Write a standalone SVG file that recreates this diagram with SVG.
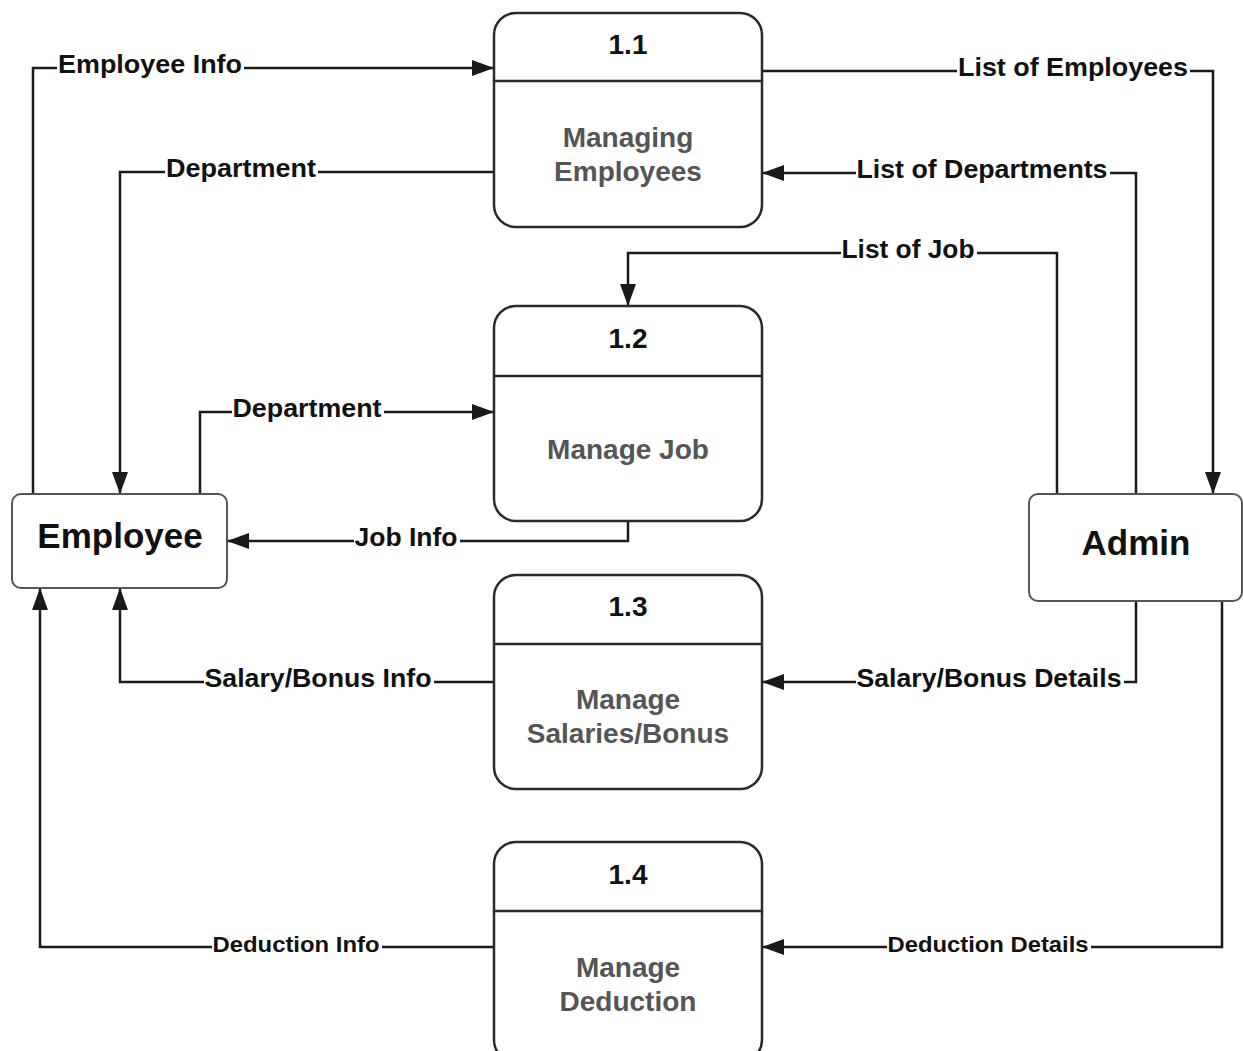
<svg xmlns="http://www.w3.org/2000/svg" width="1243" height="1051" viewBox="0 0 1243 1051">
<style>
.proc{fill:#fff;stroke:#2a2a2a;stroke-width:2.5}
.div{stroke:#2a2a2a;stroke-width:2.5}
.ent{fill:#fff;stroke:#555;stroke-width:2}
.num{font-family:"Liberation Sans",Arial,sans-serif;font-weight:bold;font-size:28px;fill:#111;text-anchor:middle}
.pt{font-family:"Liberation Sans",Arial,sans-serif;font-weight:bold;font-size:28px;fill:#555;text-anchor:middle}
.et{font-family:"Liberation Sans",Arial,sans-serif;font-weight:bold;font-size:35px;fill:#111;text-anchor:middle}
.flow{fill:none;stroke:#1a1a1a;stroke-width:2.5;marker-end:url(#arr)}
.lbl{font-family:"Liberation Sans",Arial,sans-serif;font-weight:bold;font-size:25px;fill:#111;text-anchor:middle}
.lbs{font-family:"Liberation Sans",Arial,sans-serif;font-weight:bold;font-size:22px;fill:#111;text-anchor:middle}
.bg{fill:#fff}
</style>
<defs>
<marker id="arr" markerUnits="userSpaceOnUse" markerWidth="24" markerHeight="18" refX="22" refY="8" orient="auto">
<path d="M0,0 L22,8 L0,16 z" fill="#1a1a1a"/>
</marker>
</defs>
<rect width="1243" height="1051" fill="#fff"/>
<g id="connectors">
<path class="flow" d="M33,494 V68 H494"/>
<rect class="bg" x="57" y="55" width="187" height="26"/>
<text class="lbl" x="150" y="73" textLength="184" lengthAdjust="spacingAndGlyphs">Employee Info</text>

<path class="flow" d="M494,172 H120 V494"/>
<rect class="bg" x="165" y="159" width="153" height="26"/>
<text class="lbl" x="241" y="177" textLength="150" lengthAdjust="spacingAndGlyphs">Department</text>

<path class="flow" d="M200,494 V412 H494"/>
<rect class="bg" x="232" y="399" width="152" height="26"/>
<text class="lbl" x="307" y="417" textLength="149" lengthAdjust="spacingAndGlyphs">Department</text>

<path class="flow" d="M628,521 V541 H227"/>
<rect class="bg" x="354" y="528" width="106" height="26"/>
<text class="lbl" x="406" y="546" textLength="103" lengthAdjust="spacingAndGlyphs">Job Info</text>

<path class="flow" d="M494,682 H120 V588"/>
<rect class="bg" x="204" y="669" width="230" height="26"/>
<text class="lbl" x="318" y="687" textLength="227" lengthAdjust="spacingAndGlyphs">Salary/Bonus Info</text>

<path class="flow" d="M494,947 H40 V588"/>
<rect class="bg" x="212" y="935" width="170" height="24"/>
<text class="lbs" x="296" y="952" textLength="167" lengthAdjust="spacingAndGlyphs">Deduction Info</text>

<path class="flow" d="M762,71 H1213 V494"/>
<rect class="bg" x="957" y="58" width="233" height="26"/>
<text class="lbl" x="1073" y="76" textLength="230" lengthAdjust="spacingAndGlyphs">List of Employees</text>

<path class="flow" d="M1136,494 V173 H762"/>
<rect class="bg" x="856" y="160" width="254" height="26"/>
<text class="lbl" x="982" y="178" textLength="251" lengthAdjust="spacingAndGlyphs">List of Departments</text>

<path class="flow" d="M1057,494 V253 H628 V306"/>
<rect class="bg" x="841" y="240" width="136" height="26"/>
<text class="lbl" x="908" y="258" textLength="133" lengthAdjust="spacingAndGlyphs">List of Job</text>

<path class="flow" d="M1136,601 V682 H762"/>
<rect class="bg" x="856" y="669" width="268" height="26"/>
<text class="lbl" x="989" y="687" textLength="265" lengthAdjust="spacingAndGlyphs">Salary/Bonus Details</text>

<path class="flow" d="M1222,601 V947 H762"/>
<rect class="bg" x="887" y="935" width="204" height="24"/>
<text class="lbs" x="988" y="952" textLength="201" lengthAdjust="spacingAndGlyphs">Deduction Details</text>
</g>
<g id="p1_1">
<rect class="proc" x="494" y="13" width="268" height="214" rx="22"/>
<line class="div" x1="494" y1="81" x2="762" y2="81"/>
<text class="num" x="628" y="54">1.1</text>
<text class="pt" x="628" y="147">Managing</text>
<text class="pt" x="628" y="181">Employees</text>
</g>
<g id="p1_2">
<rect class="proc" x="494" y="306" width="268" height="215" rx="22"/>
<line class="div" x1="494" y1="376" x2="762" y2="376"/>
<text class="num" x="628" y="348">1.2</text>
<text class="pt" x="628" y="459">Manage Job</text>
</g>
<g id="p1_3">
<rect class="proc" x="494" y="575" width="268" height="214" rx="22"/>
<line class="div" x1="494" y1="644" x2="762" y2="644"/>
<text class="num" x="628" y="616">1.3</text>
<text class="pt" x="628" y="709">Manage</text>
<text class="pt" x="628" y="743">Salaries/Bonus</text>
</g>
<g id="p1_4">
<rect class="proc" x="494" y="842" width="268" height="220" rx="22"/>
<line class="div" x1="494" y1="911" x2="762" y2="911"/>
<text class="num" x="628" y="884">1.4</text>
<text class="pt" x="628" y="977">Manage</text>
<text class="pt" x="628" y="1011">Deduction</text>
</g>
<g id="employee">
<rect class="ent" x="12" y="494" width="215" height="94" rx="9"/>
<text class="et" x="120" y="548">Employee</text>
</g>
<g id="admin">
<rect class="ent" x="1029" y="494" width="213" height="107" rx="9"/>
<text class="et" x="1136" y="555">Admin</text>
</g>
</svg>
